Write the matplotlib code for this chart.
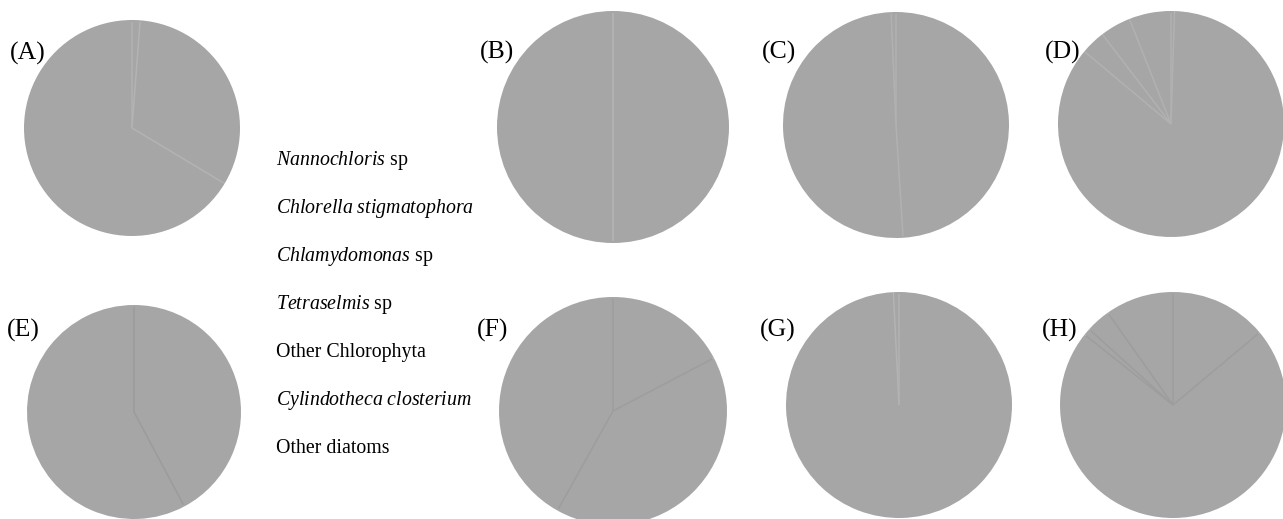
import matplotlib
matplotlib.use("Agg")
import numpy as np
import matplotlib.pyplot as plt

plt.rcParams["font.family"] = ["Liberation Serif", "DejaVu Serif"]
plt.rcParams["mathtext.fontset"] = "custom"
plt.rcParams["mathtext.rm"] = "Liberation Serif"
plt.rcParams["mathtext.it"] = "Liberation Serif:italic"

# Community composition (%) for each sample, clockwise from 12 o'clock
categories = ["Nannochloris sp", "Chlorella stigmatophora", "Chlamydomonas sp",
              "Tetraselmis sp", "Other Chlorophyta", "Cylindotheca closterium",
              "Other diatoms"]
legend_labels = [r"$\mathit{Nannochloris}$ sp",
                 r"$\mathit{Chlorella\ stigmatophora}$",
                 r"$\mathit{Chlamydomonas}$ sp",
                 r"$\mathit{Tetraselmis}$ sp",
                 "Other Chlorophyta",
                 r"$\mathit{Cylindotheca\ closterium}$",
                 "Other diatoms"]
panels = ["(A)", "(B)", "(C)", "(D)", "(E)", "(F)", "(G)", "(H)"]
values_A = [1.2, 32.4, 0, 0, 0, 0, 66.4]
values_B = [0, 50.0, 0, 0, 0, 0, 50.0]
values_C = [49.0, 50.3, 0, 0, 0, 0, 0.7]
values_D = [0.5, 85.6, 3.5, 4.4, 0, 0, 6.0]
values_E = [42.2, 0, 0, 0, 0, 0, 57.8]
values_F = [17.3, 40.8, 0, 0, 0, 0, 41.9]
values_G = [99.2, 0, 0, 0, 0, 0, 0.8]
values_H = [13.9, 71.8, 0, 1.0, 3.5, 0, 9.8]
all_values = [values_A, values_B, values_C, values_D,
              values_E, values_F, values_G, values_H]

W, H = 1283, 519
fig = plt.figure(figsize=(W / 100, H / 100), dpi=100)

# pie centre (px), radius (px), wedge seam colour
layout = [
    (132, 128, 108, "#b3b3b3"),
    (613, 127, 116, "#b5b5b5"),
    (896, 125, 113, "#b1b1b1"),
    (1171, 124, 113, "#b1b1b1"),
    (134, 412, 107, "#9b9b9b"),
    (613, 411, 114, "#9d9d9d"),
    (899, 405, 113, "#b3b3b3"),
    (1173, 405, 113, "#9d9d9d"),
]
label_pos = [(10, 60), (480, 59), (762, 59), (1045, 59),
             (7, 337), (477, 337), (760, 337), (1042, 337)]

fill = "#a6a6a6"
for vals, (cx, cy, r, seam), name, (lx, ly) in zip(all_values, layout, panels, label_pos):
    ax = fig.add_axes([(cx - r) / W, (H - cy - r) / H, 2 * r / W, 2 * r / H])
    nz = np.array([v for v in vals if v > 0], dtype=float)
    ax.pie(nz, startangle=90, counterclock=False, radius=1.0,
           colors=[fill] * len(nz), wedgeprops=dict(linewidth=0))
    # faint seams between neighbouring slices
    if len(nz) > 1:
        bounds = np.cumsum(np.concatenate([[0.0], nz[:-1]])) / nz.sum()
        for b in bounds:
            ang = np.deg2rad(90 - 360 * b)
            ax.plot([0, 0.985 * np.cos(ang)], [0, 0.985 * np.sin(ang)],
                    color=seam, linewidth=1.1, solid_capstyle="butt")
    ax.set_xlim(-1.0, 1.0)
    ax.set_ylim(-1.0, 1.0)
    ax.set_aspect("equal")
    ax.axis("off")
    fig.text(lx / W, 1 - ly / H, name, fontsize=18.5, ha="left", va="baseline",
             color="black")

# Legend entries listed beside the first panel
for i, lab in enumerate(legend_labels):
    fig.text(276 / W, 1 - (165 + 48 * i) / H, lab, fontsize=14.3,
             ha="left", va="baseline", color="black")

fig.savefig("out.png", dpi=100, facecolor="white")
